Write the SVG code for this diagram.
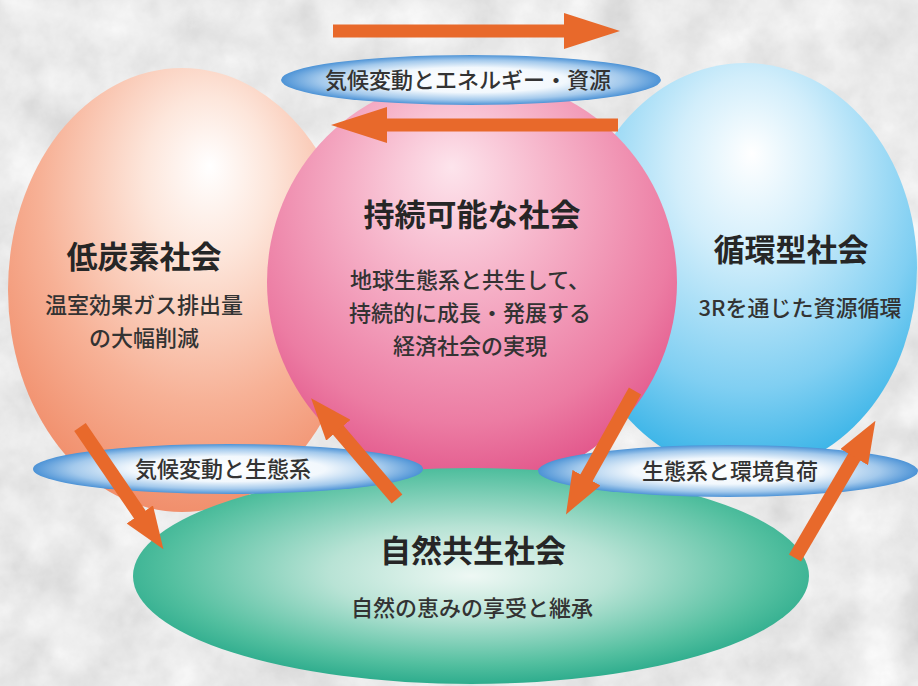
<svg xmlns="http://www.w3.org/2000/svg" width="918" height="686" viewBox="0 0 918 686">
<defs>
<filter id="stone" x="0" y="0" width="100%" height="100%">
<feTurbulence type="fractalNoise" baseFrequency="0.02" numOctaves="5" seed="7" result="n"/>
<feColorMatrix in="n" type="matrix" values="0.33 0.33 0.33 0 0  0.33 0.33 0.33 0 0  0.33 0.33 0.33 0 0  0 0 0 0 1" result="g"/>
<feComponentTransfer in="g">
<feFuncR type="linear" slope="0.6" intercept="0.52"/>
<feFuncG type="linear" slope="0.6" intercept="0.52"/>
<feFuncB type="linear" slope="0.6" intercept="0.52"/>
</feComponentTransfer>
</filter>
<radialGradient id="gLeft" cx="0.55" cy="0.32" r="0.72" fx="0.58" fy="0.22">
<stop offset="0" stop-color="#ffffff"/>
<stop offset="0.25" stop-color="#fde6db"/>
<stop offset="0.65" stop-color="#f7b196"/>
<stop offset="1" stop-color="#f08a66"/>
</radialGradient>
<radialGradient id="gPink" cx="0.48" cy="0.35" r="0.7" fx="0.45" fy="0.22">
<stop offset="0" stop-color="#fde4ec"/>
<stop offset="0.35" stop-color="#f6b3c9"/>
<stop offset="0.75" stop-color="#ec7ca3"/>
<stop offset="1" stop-color="#df4a83"/>
</radialGradient>
<radialGradient id="gBlue" cx="0.5" cy="0.32" r="0.72" fx="0.52" fy="0.22">
<stop offset="0" stop-color="#ffffff"/>
<stop offset="0.3" stop-color="#d2eefb"/>
<stop offset="0.7" stop-color="#80cff2"/>
<stop offset="1" stop-color="#2aaee5"/>
</radialGradient>
<radialGradient id="gGreen" cx="0.5" cy="0.45" r="0.6" fx="0.5" fy="0.5">
<stop offset="0" stop-color="#eef8f4"/>
<stop offset="0.35" stop-color="#b8e3d5"/>
<stop offset="0.75" stop-color="#52bf9f"/>
<stop offset="1" stop-color="#1aa283"/>
</radialGradient>
<radialGradient id="gLabel" cx="0.5" cy="0.5" r="0.5">
<stop offset="0" stop-color="#ffffff"/>
<stop offset="0.5" stop-color="#f2f8fd"/>
<stop offset="0.8" stop-color="#a3c9ec"/>
<stop offset="1" stop-color="#4d93d6"/>
</radialGradient>
<marker id="headH" markerUnits="userSpaceOnUse" viewBox="0 0 56 36" refX="1" refY="18" markerWidth="56" markerHeight="36" orient="auto">
<path d="M0,0 L56,18 L0,36 z" fill="#e8692b"/>
</marker>
<marker id="headD" markerUnits="userSpaceOnUse" viewBox="0 0 42 32" refX="1" refY="16" markerWidth="42" markerHeight="32" orient="auto">
<path d="M0,0 L42,16 L0,32 z" fill="#e8692b"/>
</marker>
<style>
.title{font-family:"Noto Sans CJK JP","Noto Sans CJK SC",sans-serif;font-weight:700;font-size:31px;fill:#262626;text-anchor:middle}
.sub{font-family:"Noto Sans CJK JP","Noto Sans CJK SC",sans-serif;font-weight:500;font-size:22px;fill:#333333;text-anchor:middle}
.lab{font-family:"Noto Sans CJK JP","Noto Sans CJK SC",sans-serif;font-weight:500;font-size:22px;fill:#333333;text-anchor:middle}
.arrH{stroke:#e8692b;stroke-width:13;fill:none;marker-end:url(#headH)}
.arrD{stroke:#e8692b;stroke-width:14;fill:none;marker-end:url(#headD)}
.lbl{fill:url(#gLabel)}
</style>
</defs>
<rect x="0" y="0" width="918" height="686" fill="#d6d6d6"/>
<rect x="0" y="0" width="918" height="686" filter="url(#stone)"/>

<g id="low-carbon">
<ellipse cx="182" cy="290" rx="174" ry="222" fill="url(#gLeft)"/>
</g>
<g id="sound-material-cycle">
<ellipse cx="745" cy="268" rx="172" ry="205" fill="url(#gBlue)"/>
</g>
<g id="sustainable">
<ellipse cx="472" cy="282" rx="205" ry="206" fill="url(#gPink)"/>
</g>
<g id="nature">
<ellipse cx="471" cy="576" rx="338" ry="108" fill="url(#gGreen)"/>
</g>

<g id="texts-low-carbon">
<text class="title" x="144" y="268">低炭素社会</text>
<text class="sub" x="144" y="313">温室効果ガス排出量</text>
<text class="sub" x="144" y="346">の大幅削減</text>
</g>
<g id="texts-sustainable">
<text class="title" x="472" y="226">持続可能な社会</text>
<text class="sub" x="470" y="288">地球生態系と共生して、</text>
<text class="sub" x="470" y="321">持続的に成長・発展する</text>
<text class="sub" x="470" y="354">経済社会の実現</text>
</g>
<g id="texts-cycle">
<text class="title" x="791" y="261">循環型社会</text>
<text class="sub" x="800" y="316">3Rを通じた資源循環</text>
</g>
<g id="texts-nature">
<text class="title" x="473" y="562">自然共生社会</text>
<text class="sub" x="472" y="616">自然の恵みの享受と継承</text>
</g>

<g id="label-top">
<ellipse class="lbl" cx="471" cy="80" rx="190" ry="25"/>
<text class="lab" x="468" y="88">気候変動とエネルギー・資源</text>
</g>
<g id="label-left">
<ellipse class="lbl" cx="228" cy="469" rx="195" ry="25"/>
<text class="lab" x="223" y="477">気候変動と生態系</text>
</g>
<g id="label-right">
<ellipse class="lbl" cx="728" cy="471" rx="190" ry="26"/>
<text class="lab" x="730" y="479">生態系と環境負荷</text>
</g>

<g id="connectors">
<line class="arrH" x1="333" y1="31" x2="565" y2="31"/>
<line class="arrH" x1="618" y1="125" x2="386" y2="125"/>
<line class="arrD" x1="80" y1="427" x2="140.3" y2="515.3"/>
<line class="arrD" x1="397" y1="499" x2="337.7" y2="429.5"/>
<line class="arrD" x1="635" y1="391" x2="586" y2="478.6"/>
<line class="arrD" x1="795" y1="558" x2="854.7" y2="456.2"/>
</g>
</svg>
